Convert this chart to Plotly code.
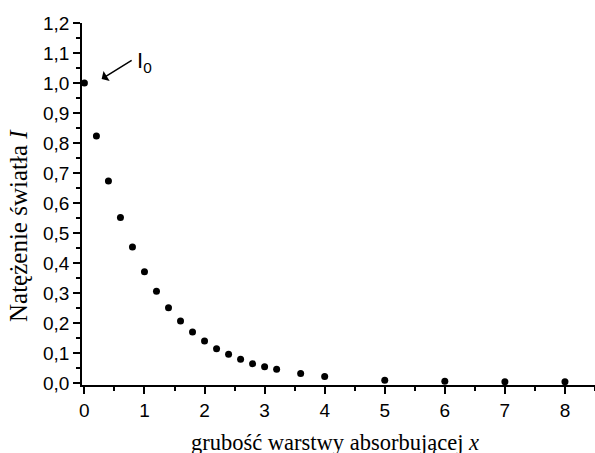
import plotly.graph_objects as go

x_vals = [0, 0.2, 0.4, 0.6, 0.8, 1.0, 1.2, 1.4, 1.6, 1.8, 2.0, 2.2, 2.4, 2.6, 2.8, 3.0, 3.2, 3.6, 4, 5, 6, 7, 8]
i_vals = [1.0, 0.823, 0.673, 0.552, 0.453, 0.371, 0.306, 0.251, 0.207, 0.170, 0.140, 0.114, 0.096,
          0.079, 0.064, 0.054, 0.046, 0.032, 0.022, 0.009, 0.006, 0.004, 0.004]

x_title = "grubość warstwy absorbującej <i>x</i>"
y_title = "Natężenie światła <i>I</i>"
label_i0 = "I<sub>0</sub>"

W, H = 595, 453
ml, mr, mt, mb = 82, 0, 23, 68
pw, ph = W - ml - mr, H - mt - mb

def px_x(p):
    return (p - ml) / pw

def px_y(p):
    return (H - mb - p) / ph

sans = "Liberation Sans"
serif = "Liberation Serif"

fig = go.Figure()
fig.add_trace(go.Scatter(
    x=x_vals, y=i_vals, mode="markers",
    marker=dict(color="black", size=7),
    cliponaxis=False, showlegend=False,
))

axis_common = dict(
    showline=True, linecolor="black", linewidth=1.5, mirror=False,
    ticks="outside", ticklen=7, tickwidth=1.5, tickcolor="black",
    showgrid=False, zeroline=False,
    tickfont=dict(family=sans, size=19, color="black"),
)

fig.update_xaxes(range=[-0.04, 8.5], dtick=1, tick0=0, tickformat="d",
                 minor=dict(ticks="outside", ticklen=4, dtick=0.5, tick0=0, tickcolor="black", tickwidth=1.5),
                 **axis_common)
fig.update_yaxes(range=[-0.0067, 1.2], dtick=0.1, tick0=0, tickformat=".1f",
                 minor=dict(ticks="outside", ticklen=4, dtick=0.05, tick0=0, tickcolor="black", tickwidth=1.5),
                 **axis_common)

fig.add_annotation(text=x_title, xref="paper", yref="paper", x=px_x(335), y=px_y(442),
                   xanchor="center", yanchor="middle", showarrow=False,
                   font=dict(family=serif, size=22.5, color="black"))
fig.add_annotation(text=y_title, xref="paper", yref="paper", x=px_x(19), y=px_y(226),
                   xanchor="center", yanchor="middle", showarrow=False, textangle=-90,
                   font=dict(family=serif, size=25, color="black"))

# arrow to I0
fig.add_annotation(text=" ", x=0.287, y=1.013, xref="x", yref="y",
                   ax=32, ay=-20, axref="pixel", ayref="pixel",
                   showarrow=True, arrowhead=1, arrowsize=1.3, arrowwidth=1.5, arrowcolor="black",
                   font=dict(size=2))
fig.add_annotation(text=label_i0, x=(135 - 84.5) / 60, y=(383 - 62) / 300, xref="x", yref="y",
                   xanchor="left", yanchor="middle", showarrow=False,
                   font=dict(family=sans, size=22, color="black"))

fig.update_layout(
    width=W, height=H, margin=dict(l=ml, r=mr, t=mt, b=mb),
    paper_bgcolor="white", plot_bgcolor="white",
    separators=", ",
)

fig.write_html("out.html")
